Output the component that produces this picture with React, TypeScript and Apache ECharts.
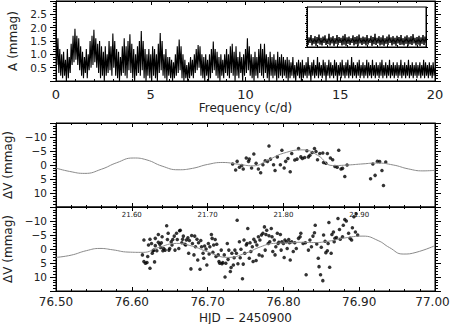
import React, { useEffect, useRef } from "react";
import * as echarts from "echarts";

// ---------- Amplitude spectrum (0 - 20 c/d, step 0.05) ----------
const FREQ_STEP = 0.05;
const amplitude: number[] = [
  1.90, 0.6, 1.60, 0.3, 1.2, 0.2, 1.0, 0.1, 1.1, 0.2, 0.8, 0.0, 1.2, 0.1, 0.9, 0.3, 1.4, 0.6, 1.7, 0.7,
  1.96, 0.8, 1.7, 0.6, 1.6, 0.4, 1.3, 0.2, 1.1, 0.1, 0.9, 0.3, 1.2, 0.1, 1.0, 0.4, 1.5, 0.5, 1.7, 0.6,
  1.92, 0.7, 1.6, 0.5, 1.4, 0.3, 1.5, 0.1, 1.3, 0.2, 1.1, 0.0, 1.3, 0.2, 1.0, 0.3, 1.5, 0.4, 1.3, 0.2,
  1.78, 0.5, 1.5, 0.2, 1.2, 0.1, 1.1, 0.0, 0.9, 0.2, 1.3, 0.3, 1.6, 0.2, 1.3, 0.1, 1.5, 0.4, 1.75, 0.3,
  1.4, 0.1, 1.2, 0.0, 1.0, 0.2, 1.3, 0.3, 1.5, 0.2, 1.87, 0.4, 1.5, 0.1, 1.2, 0.0, 1.0, 0.2, 1.2, 0.1,
  1.0, 0.0, 1.3, 0.2, 1.2, 0.1, 1.0, 0.0, 1.4, 0.3, 1.8, 0.4, 1.5, 0.2, 1.0, 0.1, 1.2, 0.0, 0.9, 0.2,
  0.9, 0.1, 0.8, 0.0, 0.7, 0.1, 1.0, 0.2, 1.3, 0.3, 1.56, 0.4, 1.3, 0.1, 1.0, 0.0, 0.8, 0.1, 0.6, 0.0,
  0.7, 0.1, 0.9, 0.2, 0.8, 0.1, 1.0, 0.3, 1.2, 0.4, 1.35, 0.5, 1.3, 0.2, 1.0, 0.1, 0.9, 0.0, 1.0, 0.2,
  0.8, 0.0, 1.0, 0.1, 1.2, 0.3, 1.48, 0.4, 1.2, 0.2, 1.1, 0.1, 0.9, 0.0, 1.0, 0.2, 0.8, 0.1, 1.0, 0.3,
  1.2, 0.2, 1.0, 0.1, 1.3, 0.3, 1.4, 0.2, 1.1, 0.0, 1.3, 0.2, 0.9, 0.1, 1.1, 0.3, 0.9, 0.0, 1.0, 0.2,
  1.2, 0.3, 1.6, 0.4, 1.3, 0.2, 1.0, 0.1, 0.9, 0.0, 1.1, 0.2, 0.9, 0.1, 1.2, 0.3, 1.4, 0.2, 1.2, 0.1,
  1.4, 0.3, 1.0, 0.1, 0.9, 0.0, 1.1, 0.2, 0.9, 0.1, 1.0, 0.2, 0.8, 0.0, 1.1, 0.1, 0.9, 0.2, 1.0, 0.1,
  0.9, 0.2, 0.8, 0.1, 0.9, 0.0, 0.8, 0.1, 0.7, 0.2, 0.9, 0.1, 0.6, 0.0, 0.7, 0.2, 0.8, 0.1, 0.7, 0.0,
  0.8, 0.1, 0.6, 0.2, 0.7, 0.1, 0.9, 0.2, 0.6, 0.0, 0.7, 0.2, 0.8, 0.1, 0.6, 0.2, 0.9, 0.1, 0.7, 0.2,
  0.6, 0.1, 0.8, 0.2, 0.7, 0.0, 0.6, 0.2, 0.8, 0.1, 0.7, 0.2, 0.6, 0.1, 0.8, 0.2, 0.7, 0.0, 0.6, 0.2,
  0.7, 0.1, 0.8, 0.2, 0.6, 0.1, 0.7, 0.2, 0.8, 0.1, 0.6, 0.2, 0.9, 0.1, 0.7, 0.2, 0.6, 0.1, 0.7, 0.2,
  0.8, 0.1, 0.6, 0.2, 0.7, 0.1, 0.6, 0.2, 0.8, 0.1, 0.7, 0.2, 0.6, 0.1, 0.8, 0.2, 0.6, 0.1, 0.7, 0.2,
  0.6, 0.1, 0.7, 0.2, 0.8, 0.1, 0.6, 0.2, 0.7, 0.1, 0.6, 0.2, 0.8, 0.1, 0.6, 0.2, 0.7, 0.1, 0.6, 0.2,
  0.7, 0.1, 0.6, 0.2, 0.8, 0.1, 0.6, 0.2, 0.7, 0.1, 0.6, 0.2, 0.8, 0.1, 0.6, 0.2, 0.7, 0.1, 0.6, 0.2,
  0.7, 0.1, 0.6, 0.2, 0.7, 0.1, 0.6, 0.2, 0.8, 0.1, 0.7, 0.2, 0.6, 0.1, 0.7, 0.2, 0.6, 0.1, 0.7, 0.2,
  0.5,
];
const frequencies = amplitude.map((_, i) => +(i * FREQ_STEP).toFixed(2));

// ---------- Inset (window-like noise band) ----------
const insetValues: number[] = [
  0.28, 0.05, 0.24, 0.10, 0.30, 0.04, 0.22, 0.08, 0.27, 0.03, 0.25, 0.09, 0.31, 0.06, 0.23, 0.04, 0.26, 0.10, 0.29, 0.05,
  0.21, 0.07, 0.33, 0.04, 0.24, 0.09, 0.27, 0.03, 0.22, 0.08, 0.30, 0.05, 0.25, 0.10, 0.23, 0.04, 0.28, 0.06, 0.32, 0.03,
  0.24, 0.08, 0.26, 0.05, 0.22, 0.10, 0.29, 0.04, 0.25, 0.07, 0.27, 0.03, 0.31, 0.09, 0.23, 0.05, 0.26, 0.08, 0.24, 0.04,
  0.30, 0.06, 0.22, 0.10, 0.28, 0.03, 0.25, 0.07, 0.33, 0.05, 0.23, 0.09, 0.27, 0.04, 0.24, 0.06, 0.29, 0.03, 0.22, 0.08,
  0.26, 0.05, 0.31, 0.10, 0.24, 0.04, 0.27, 0.07, 0.23, 0.03, 0.28, 0.09, 0.25, 0.05, 0.30, 0.06, 0.22, 0.04, 0.26, 0.08,
  0.29, 0.03, 0.24, 0.07, 0.27, 0.05, 0.32, 0.09, 0.23, 0.04, 0.25, 0.06, 0.28, 0.03, 0.24, 0.08, 0.30, 0.05, 0.26, 0.10,
];
const insetIndex = insetValues.map((_, i) => i);

// ---------- Night 1 (HJD 2450921.5 - 2450922.0) ----------
const fitMidHJD = [21.5, 21.518, 21.538, 21.56, 21.58, 21.602, 21.62, 21.64, 21.661, 21.68, 21.7, 21.72, 21.74, 21.76, 21.78, 21.8, 21.826, 21.845, 21.865, 21.885, 21.905, 21.923, 21.945, 21.965, 21.984, 22.0];
const fitMidDV = [1.1, 2.3, 3.0, 1.5, -0.8, -2.5, -1.8, 0.4, 1.7, 1.2, -0.2, -0.9, -0.3, 0.3, -1.8, -4.2, -5.4, -3.5, 0.2, 0.0, -0.4, -0.7, 0.0, 1.4, 2.1, 1.9];

const obsMidHJD = [
  21.733, 21.737, 21.739, 21.742, 21.745, 21.747, 21.751, 21.754, 21.755, 21.758, 21.761, 21.764, 21.767, 21.770, 21.773, 21.776,
  21.779, 21.781, 21.783, 21.787, 21.789, 21.792, 21.796, 21.798, 21.801, 21.803, 21.806, 21.809, 21.811, 21.815, 21.818, 21.820,
  21.823, 21.825, 21.828, 21.831, 21.833, 21.835, 21.838, 21.841, 21.843, 21.845, 21.848, 21.852, 21.853, 21.856, 21.858, 21.862,
  21.865, 21.868, 21.871, 21.873, 21.876, 21.878, 21.881, 21.884, 21.915, 21.918, 21.921, 21.924, 21.927, 21.930, 21.932, 21.935,
];
const obsMidDV = [
  -0.35, 1.8, -1.3, 0.8, 0.2, 1.4, -2.5, -1.3, -2.1, 1.1, -3.9, -0.6, 1.4, 2.8, -0.1, -1.5,
  -1.3, -6.8, -2.1, -0.1, 2.0, -2.9, -0.1, -5.3, 1.1, -1.3, -2.3, 2.4, -4.1, -1.8, -2.1, -5.9,
  -2.9, -2.3, -2.7, -5.1, -2.9, -3.5, -4.5, -5.9, -4.8, -1.9, -4.1, -4.3, -0.9, -0.6, -4.1, -2.5,
  -1.9, 0.5, 0.8, -5.3, 1.4, 1.2, 4.1, 0.0, 4.9, -0.35, 3.7, -1.3, -1.2, 2.0, 7.3, -1.1,
];

// ---------- Night 2 (HJD 2450976.5 - 2450977.0) ----------
const fitBotHJD = [76.5, 76.52, 76.54, 76.558, 76.575, 76.595, 76.615, 76.635, 76.659, 76.68, 76.7, 76.727, 76.75, 76.77, 76.787, 76.805, 76.822, 76.84, 76.86, 76.88, 76.905, 76.925, 76.94, 76.958, 76.975, 77.0];
const fitBotDV = [3.0, 2.2, 0.6, -0.2, 0.3, 1.1, 1.2, -0.5, -2.0, -1.0, 1.0, 3.0, 1.5, -0.8, -2.0, -2.2, -2.4, -2.3, -2.8, -3.9, -4.6, -3.0, -0.5, 1.8, 1.2, -1.2];

const obsBotHJD = [
  76.614, 76.616, 76.616, 76.618, 76.620, 76.621, 76.622, 76.624, 76.624, 76.626, 76.627, 76.628, 76.629, 76.630, 76.631, 76.631,
  76.633, 76.635, 76.635, 76.637, 76.638, 76.639, 76.640, 76.641, 76.642, 76.644, 76.646, 76.647, 76.648, 76.649, 76.650, 76.652,
  76.653, 76.654, 76.656, 76.657, 76.659, 76.660, 76.662, 76.663, 76.664, 76.666, 76.667, 76.668, 76.670, 76.671, 76.672, 76.674,
  76.675, 76.676, 76.678, 76.679, 76.680, 76.682, 76.683, 76.684, 76.686, 76.687, 76.688, 76.690, 76.691, 76.692, 76.694, 76.695,
  76.696, 76.698, 76.699, 76.701, 76.702, 76.703, 76.705, 76.706, 76.707, 76.708, 76.710, 76.711, 76.712, 76.714, 76.715, 76.716,
  76.718, 76.719, 76.720, 76.722, 76.723, 76.724, 76.726, 76.727, 76.728, 76.730, 76.731, 76.732, 76.734, 76.735, 76.736, 76.738,
  76.739, 76.740, 76.742, 76.743, 76.744, 76.746, 76.747, 76.748, 76.749, 76.751, 76.752, 76.753, 76.755, 76.756, 76.757, 76.759,
  76.760, 76.761, 76.763, 76.764, 76.765, 76.767, 76.768, 76.769, 76.771, 76.772, 76.773, 76.775, 76.776, 76.777, 76.778, 76.780,
  76.781, 76.782, 76.784, 76.785, 76.786, 76.788, 76.789, 76.790, 76.792, 76.793, 76.794, 76.796, 76.797, 76.798, 76.800, 76.801,
  76.802, 76.804, 76.805, 76.807, 76.808, 76.809, 76.811, 76.813, 76.815, 76.817, 76.820, 76.822, 76.823, 76.826, 76.829, 76.830,
  76.833, 76.835, 76.837, 76.839, 76.841, 76.842, 76.844, 76.846, 76.847, 76.849, 76.850, 76.852, 76.853, 76.855, 76.856, 76.858,
  76.859, 76.860, 76.861, 76.863, 76.864, 76.866, 76.867, 76.868, 76.870, 76.872, 76.874, 76.875, 76.878, 76.879, 76.881, 76.883,
  76.886, 76.888, 76.890, 76.891, 76.893, 76.895, 76.896, 76.898,
];
const obsBotDV = [
  2.1, -3.2, 4.5, 5.1, 4.8, 2.7, -1.4, -3.5, 6.9, -2.0, 1.5, 0.6, 0.4, 4.6, -3.8, -1.2,
  0.6, -5.2, -2.4, -1.7, -0.5, -2.2, -4.4, 0.6, -0.2, 0.4, -8.3, -3.4, -5.6, 0.4, -0.2, -2.6,
  -1.4, -3.4, -4.6, 0.4, -5.6, -3.4, -0.2, -6.5, -6.7, -2.2, -3.5, -4.6, -1.7, -1.4, -3.2, -4.0,
  1.5, -3.0, 7.1, -4.8, -2.0, 2.1, -4.6, -0.8, -3.5, 3.9, -2.2, 7.2, -3.0, -0.8, 1.5, 3.3,
  -1.1, 0.0, 5.7, -2.0, 1.8, -0.8, -5.2, -3.8, 1.2, -1.4, -3.4, 2.7, -1.7, 2.1, 4.5, 5.1,
  0.4, 5.3, 4.8, 2.1, 10.0, 5.1, -2.0, 3.7, 0.4, 8.0, 6.6, 1.5, 5.7, 3.1, 0.4, 1.5,
  -10.3, 5.3, -2.6, 3.1, 0.1, 10.6, 5.4, -3.2, 1.5, -1.4, -2.0, -7.3, 3.3, -2.2, 0.9, -0.8,
  4.5, -3.5, -2.6, 4.1, -1.4, -4.4, 2.1, -3.2, -5.0, 2.5, -5.6, -7.9, 0.4, -5.2, -6.7, -2.0,
  -4.7, -2.6, -7.3, -4.4, 0.9, -3.2, 2.1, -0.8, -5.6, -2.0, -2.4, -5.2, 0.4, -2.6, -2.0, 3.0,
  -3.2, -2.6, -0.2, -3.4, -2.2, 3.9, -2.6, 0.9, -2.2, -0.2, -3.8, -4.4, -5.6, -2.0, -2.2, 9.2,
  0.4, -3.2, -0.8, -4.6, -5.8, -8.5, -1.8, 3.3, 6.3, 9.2, -0.6, 11.3, -5.0, -2.8, 1.3, 0.6,
  -2.0, -9.5, 6.5, 1.5, -5.2, -6.1, -2.6, -3.8, -4.1, -10.9, -7.0, -3.5, -4.4, -8.5, -10.5, -10.0,
  -5.6, -3.8, -3.2, -7.6, -11.5, -6.1, -12.6, -5.0,
];

const FONT = "DejaVu Sans";
const TXT = "#222";

function xAxisBase(gridIndex: number, position: "top" | "bottom", min: number, max: number, interval: number, extra: any = {}) {
  return {
    type: "value",
    gridIndex,
    position,
    min,
    max,
    interval,
    axisLine: { show: true, onZero: false, lineStyle: { color: "#000", width: 1 } },
    axisTick: { show: true, inside: true, length: 4, lineStyle: { color: "#000" } },
    minorTick: { show: true, splitNumber: 5, length: 2, lineStyle: { color: "#000" } },
    splitLine: { show: false },
    axisLabel: { show: false },
    ...extra,
  };
}

function yAxisBase(gridIndex: number, position: "left" | "right", min: number, max: number, interval: number, extra: any = {}) {
  return {
    type: "value",
    gridIndex,
    position,
    min,
    max,
    interval,
    axisLine: { show: true, onZero: false, lineStyle: { color: "#000", width: 1 } },
    axisTick: { show: true, inside: false, length: 6, lineStyle: { color: "#000" } },
    minorTick: { show: true, splitNumber: 5, length: 3, lineStyle: { color: "#000" } },
    splitLine: { show: false },
    axisLabel: { show: false },
    ...extra,
  };
}

const dvFormatter = (v: number) => {
  if (Math.abs(Math.abs(v) - 15) < 1e-6) return "";
  if (v < 0) return "\u2212" + Math.abs(v);
  return String(v);
};

export default function App() {
  const ref = useRef<HTMLDivElement>(null);

  useEffect(() => {
    if (!ref.current) return;
    const chart = echarts.init(ref.current, undefined, { renderer: "svg" });

    const dvName = {
      name: "\u0394V (mmag)",
      nameLocation: "middle",
      nameGap: 36,
      nameRotate: 90,
      nameTextStyle: { fontFamily: FONT, fontSize: 12, color: TXT },
    };
    const dvLabel = {
      show: true,
      margin: 9,
      fontFamily: FONT,
      fontSize: 10.5,
      color: TXT,
      formatter: dvFormatter,
    };

    const option: any = {
      animation: false,
      backgroundColor: "#fff",
      grid: [
        { left: 56, top: 1, width: 379, height: 80, show: true, borderColor: "#000", borderWidth: 1, outerBoundsMode: "none" },
        { left: 307, top: 7, width: 119, height: 40, show: true, backgroundColor: "#fff", borderColor: "#000", borderWidth: 1, z: 10, outerBoundsMode: "none" },
        { left: 56, top: 123, width: 379, height: 84, show: true, borderColor: "#000", borderWidth: 1, outerBoundsMode: "none" },
        { left: 56, top: 207, width: 379, height: 84, show: true, borderColor: "#000", borderWidth: 1, outerBoundsMode: "none" },
      ],
      xAxis: [
        xAxisBase(0, "bottom", 0, 20, 5, {
          axisLabel: { show: true, margin: 7, fontFamily: FONT, fontSize: 13, color: TXT },
          name: "Frequency (c/d)",
          nameLocation: "middle",
          nameGap: 21,
          nameTextStyle: { fontFamily: FONT, fontSize: 12, color: TXT },
        }),
        xAxisBase(0, "top", 0, 20, 5),
        xAxisBase(1, "bottom", 0, insetValues.length - 1, 10, {
          z: 11,
          axisTick: { show: true, inside: true, length: 2, lineStyle: { color: "#000" } },
          minorTick: { show: false },
        }),
        xAxisBase(2, "bottom", 21.5, 22.0, 0.1, {
          axisLabel: {
            show: true,
            margin: 4,
            fontFamily: FONT,
            fontSize: 7,
            color: TXT,
            formatter: (v: number) => (Math.abs(v - 21.5) < 1e-6 || Math.abs(v - 22.0) < 1e-6 ? "" : v.toFixed(2)),
          },
        }),
        xAxisBase(2, "top", 21.5, 22.0, 0.1),
        xAxisBase(3, "bottom", 76.5, 77.0, 0.1, {
          axisLabel: {
            show: true,
            margin: 5,
            fontFamily: FONT,
            fontSize: 12,
            color: TXT,
            formatter: (v: number) => (Math.abs(v - 77.0) < 1e-6 ? "{e|" + v.toFixed(2) + "}" : v.toFixed(2)),
            rich: { e: { fontFamily: FONT, fontSize: 12, color: TXT, padding: [0, 5, 0, 0] } },
          },
          name: "HJD \u2212 2450900",
          nameLocation: "middle",
          nameGap: 21,
          nameTextStyle: { fontFamily: FONT, fontSize: 12, color: TXT },
        }),
        xAxisBase(3, "top", 76.5, 77.0, 0.1),
      ],
      yAxis: [
        yAxisBase(0, "left", 0, 3, 0.5, {
          axisLabel: {
            show: true,
            margin: 9,
            fontFamily: FONT,
            fontSize: 10.5,
            color: TXT,
            formatter: (v: number) => (v < 1e-6 || v > 2.99 ? "" : v.toFixed(1)),
          },
          name: "A (mmag)",
          nameLocation: "middle",
          nameGap: 36,
          nameRotate: 90,
          nameTextStyle: { fontFamily: FONT, fontSize: 12, color: TXT },
        }),
        yAxisBase(0, "right", 0, 3, 0.5),
        yAxisBase(1, "left", 0, 1, 0.2, {
          z: 11,
          axisTick: { show: true, inside: false, length: 2, lineStyle: { color: "#000" } },
          minorTick: { show: true, splitNumber: 4, length: 1, lineStyle: { color: "#000" } },
        }),
        yAxisBase(1, "right", 0, 1, 0.2, {
          z: 11,
          axisTick: { show: true, inside: false, length: 2, lineStyle: { color: "#000" } },
          minorTick: { show: true, splitNumber: 4, length: 1, lineStyle: { color: "#000" } },
        }),
        yAxisBase(2, "left", -15, 15, 5, { inverse: true, axisLabel: dvLabel, ...dvName }),
        yAxisBase(2, "right", -15, 15, 5, { inverse: true }),
        yAxisBase(3, "left", -15, 15, 5, { inverse: true, axisLabel: dvLabel, ...dvName }),
        yAxisBase(3, "right", -15, 15, 5, { inverse: true }),
      ],
      series: [
        {
          type: "line",
          xAxisIndex: 0,
          yAxisIndex: 0,
          data: frequencies.map((f, i) => [f, amplitude[i]]),
          showSymbol: false,
          symbol: "none",
          lineStyle: { color: "#000", width: 1.1 },
          z: 2,
        },
        {
          type: "line",
          xAxisIndex: 2,
          yAxisIndex: 2,
          data: insetIndex.map((x, i) => [x, insetValues[i]]),
          showSymbol: false,
          symbol: "none",
          lineStyle: { color: "#000", width: 1 },
          z: 12,
        },
        {
          type: "line",
          xAxisIndex: 3,
          yAxisIndex: 4,
          data: fitMidHJD.map((x, i) => [x, fitMidDV[i]]),
          smooth: 0.5,
          showSymbol: false,
          symbol: "none",
          lineStyle: { color: "#8a8a8a", width: 1 },
        },
        {
          type: "scatter",
          xAxisIndex: 3,
          yAxisIndex: 4,
          data: obsMidHJD.map((x, i) => [x, obsMidDV[i]]),
          symbolSize: 3.5,
          itemStyle: { color: "#000" },
        },
        {
          type: "line",
          xAxisIndex: 5,
          yAxisIndex: 6,
          data: fitBotHJD.map((x, i) => [x, fitBotDV[i]]),
          smooth: 0.5,
          showSymbol: false,
          symbol: "none",
          lineStyle: { color: "#8a8a8a", width: 1 },
        },
        {
          type: "scatter",
          xAxisIndex: 5,
          yAxisIndex: 6,
          data: obsBotHJD.map((x, i) => [x, obsBotDV[i]]),
          symbolSize: 3.5,
          itemStyle: { color: "#000" },
        },
      ],
    };

    chart.setOption(option);
    return () => chart.dispose();
  }, []);

  return (
    <div
      ref={ref}
      style={{ position: "fixed", left: 0, top: 0, width: 451, height: 324, background: "#fff" }}
    />
  );
}
